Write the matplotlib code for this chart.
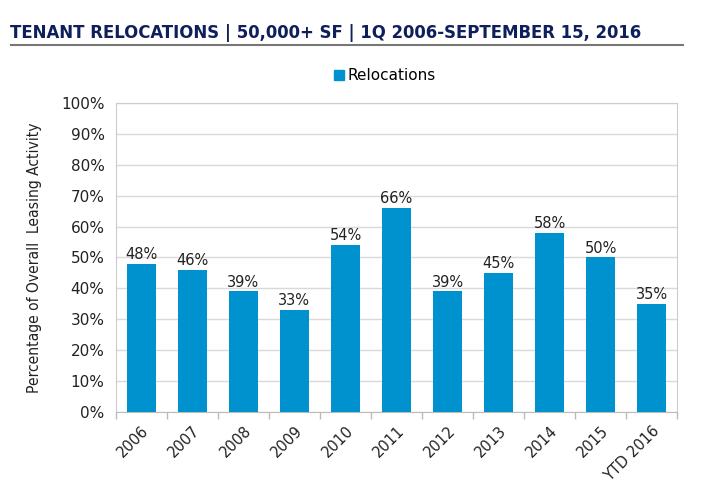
import numpy as np
import matplotlib.pyplot as plt
from matplotlib.lines import Line2D

# dados
anos = ['2006', '2007', '2008', '2009', '2010', '2011', '2012', '2013', '2014', '2015', 'YTD 2016']
relocacoes = [48, 46, 39, 33, 54, 66, 39, 45, 58, 50, 35]
yticks = [0, 10, 20, 30, 40, 50, 60, 70, 80, 90, 100]

azul = '#0091cf'
navy = '#0f1f5c'
texto = '#222222'

fig = plt.figure(figsize=(7.1, 4.83), dpi=100)
ax = fig.add_axes([0.163, 0.147, 0.791, 0.64])

x = np.arange(len(anos))
ax.bar(x, relocacoes, width=0.57, color=azul, zorder=3)
for xi, v in zip(x, relocacoes):
    ax.text(xi, v + 0.6, f'{v}%', ha='center', va='bottom', fontsize=10.5, color=texto)

ax.set_xlim(-0.5, len(anos) - 0.5)
ax.set_ylim(0, 100)
ax.set_yticks(yticks)
ax.set_yticklabels([f'{t}%' for t in yticks], fontsize=11, color=texto)
ax.grid(axis='y', color='#d9d9d9', linewidth=1, zorder=0)

# ticks nas fronteiras das categorias
ax.set_xticks(np.arange(-0.5, len(anos), 1.0), minor=False)
ax.set_xticklabels([])
ax.tick_params(axis='x', length=5, color='#bbbbbb', width=1)
ax.set_xticks(x, minor=True)
ax.set_xticklabels(anos, minor=True, rotation=45, ha='right', rotation_mode='anchor',
                   fontsize=10.5, color=texto)
ax.tick_params(axis='x', which='minor', length=0, pad=8)
ax.tick_params(axis='y', length=0, pad=8)

for s in ['left', 'right', 'bottom', 'top']:
    ax.spines[s].set_color('#cccccc')
ax.spines['bottom'].set_color('#bbbbbb')

ylab = ax.set_ylabel('Percentage of Overall  Leasing Activity', fontsize=11.5, color=texto,
                     labelpad=14, family='DejaVu Sans', stretch='condensed')

# legenda
h = Line2D([], [], marker='s', linestyle='none', color=azul, markersize=7)
fig.legend([h], ['Relocations'], loc='center', bbox_to_anchor=(0.54, 0.843), frameon=False,
           fontsize=11, handletextpad=0.1, handlelength=1)

# título, ajustado para ~637 px de largura
titulo = fig.text(0.014, 0.931, 'TENANT RELOCATIONS | 50,000+ SF | 1Q 2006-SEPTEMBER 15, 2016',
                  fontsize=14, fontweight='bold', color=navy, va='center',
                  family='DejaVu Sans', stretch='condensed')
fig.canvas.draw()
w = titulo.get_window_extent().width
titulo.set_fontsize(14 * 637 / w)
hy = ylab.get_window_extent().height
ylab.set_fontsize(11.5 * 270 / hy)
fig.add_artist(Line2D([0.015, 0.962], [0.907, 0.907], color='#777777', linewidth=1.5))

fig.savefig('out.png', dpi=100)
